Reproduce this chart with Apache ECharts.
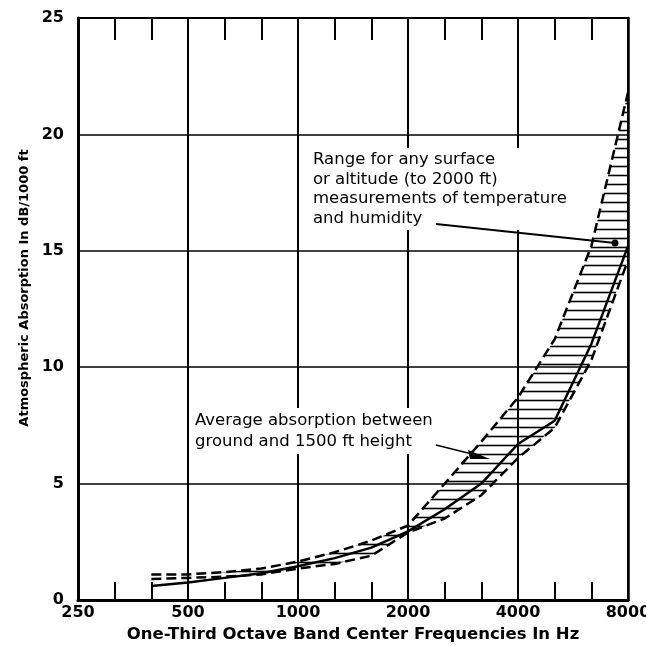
<!DOCTYPE html>
<html>
<head>
<meta charset="utf-8">
<script src="https://cdn.jsdelivr.net/npm/echarts@6/dist/echarts.min.js"></script>
<style>
  html, body { margin: 0; padding: 0; background: #fff; }
  #chart { width: 646px; height: 646px; }
</style>
</head>
<body>
<div id="chart"></div>
<script>
// one-third octave band centre frequencies (Hz)
const bands = ['250', '315', '400', '500', '630', '800', '1000', '1250', '1600', '2000', '2500', '3150', '4000', '5000', '6300', '8000']
// absorption in dB/1000 ft (no curve below 400 Hz)
const average = [null, null, 0.6, 0.75, 0.95, 1.15, 1.45, 1.8, 2.25, 2.95, 3.9, 5.0, 6.7, 7.7, 11.0, 15.2]
const upperBound = [null, null, 1.1, 1.1, 1.2, 1.35, 1.65, 2.05, 2.55, 3.2, 5.0, 6.8, 8.7, 11.2, 15.2, 21.8]
const lowerBound = [null, null, 0.9, 0.95, 1.0, 1.1, 1.35, 1.55, 1.9, 2.9, 3.5, 4.5, 6.1, 7.4, 10.3, 14.6]

const font = 'DejaVu Sans'
const ink = '#000'

function hatchPattern() {
  const c = document.createElement('canvas')
  c.width = 8
  c.height = 9
  const ctx = c.getContext('2d')
  ctx.strokeStyle = ink
  ctx.lineWidth = 1.6
  ctx.beginPath()
  ctx.moveTo(0, 4.5)
  ctx.lineTo(8, 4.5)
  ctx.stroke()
  return c
}

const bandWidth = upperBound.map((v, i) => (v == null ? null : +(v - lowerBound[i]).toFixed(2)))
const isOctave = (i) => i % 3 === 0

function curve(name, data, dashed) {
  return {
    name,
    type: 'line',
    data,
    symbol: 'none',
    silent: true,
    lineStyle: { color: ink, width: 2.5, type: dashed ? [10, 5] : 'solid' },
    z: 4
  }
}

const chart = echarts.init(document.getElementById('chart'))
chart.setOption({
  animation: false,
  backgroundColor: '#fff',
  textStyle: { fontFamily: font },
  grid: { left: 78, right: 18, top: 18, bottom: 46, outerBoundsMode: 'none', containLabel: false },
  xAxis: [
    {
      type: 'category',
      data: bands,
      boundaryGap: false,
      name: 'One-Third Octave Band Center Frequencies In Hz',
      nameLocation: 'middle',
      nameGap: 25,
      nameTextStyle: { color: ink, fontSize: 16.5, fontWeight: 'bold', fontFamily: font },
      axisLine: { onZero: false, lineStyle: { color: ink, width: 3 } },
      axisTick: { inside: true, length: 18, interval: 0, lineStyle: { color: ink, width: 2 } },
      axisLabel: { interval: isOctave, color: ink, fontSize: 16, fontWeight: 'bold', margin: 5, fontFamily: font },
      splitLine: { show: true, interval: (i) => isOctave(i) && i > 0, lineStyle: { color: ink, width: 2 } }
    },
    {
      type: 'category',
      data: bands,
      boundaryGap: false,
      position: 'top',
      axisLine: { onZero: false, lineStyle: { color: ink, width: 2 } },
      axisTick: { inside: true, length: 22, interval: 0, lineStyle: { color: ink, width: 2 } },
      axisLabel: { show: false },
      splitLine: { show: false }
    }
  ],
  yAxis: [
    {
      type: 'value',
      min: 0,
      max: 25,
      interval: 5,
      name: 'Atmospheric Absorption In dB/1000 ft',
      nameLocation: 'middle',
      nameGap: 32,
      nameTextStyle: { color: ink, fontSize: 13, fontWeight: 'bold', fontFamily: font, padding: [0, 0, 0, 42] },
      axisLine: { show: true, lineStyle: { color: ink, width: 3 } },
      axisTick: { show: false },
      axisLabel: { color: ink, fontSize: 16, fontWeight: 'bold', margin: 14, fontFamily: font },
      splitLine: { lineStyle: { color: ink, width: 1.5 } }
    },
    {
      type: 'value',
      position: 'right',
      min: 0,
      max: 25,
      interval: 5,
      axisLine: { show: true, lineStyle: { color: ink, width: 2.5 } },
      axisTick: { show: false },
      axisLabel: { show: false },
      splitLine: { show: false }
    }
  ],
  series: [
    {
      name: 'range base',
      type: 'line',
      stack: 'range',
      data: lowerBound,
      symbol: 'none',
      silent: true,
      lineStyle: { opacity: 0 }
    },
    {
      name: 'range',
      type: 'line',
      stack: 'range',
      data: bandWidth,
      symbol: 'none',
      silent: true,
      lineStyle: { opacity: 0 },
      areaStyle: { color: { image: hatchPattern(), repeat: 'repeat' }, opacity: 1 }
    },
    curve('upper', upperBound, true),
    curve('lower', lowerBound, true),
    curve('average', average, false)
  ],
  graphic: [
    {
      type: 'text',
      left: 310,
      top: 148,
      z: 10,
      style: {
        text: 'Range for any surface\nor altitude (to 2000 ft)\nmeasurements of temperature\nand humidity',
        font: '16.5px "DejaVu Sans"',
        lineHeight: 19.5,
        fill: ink,
        backgroundColor: '#fff',
        padding: [2, 3]
      }
    },
    {
      type: 'line',
      z: 10,
      shape: { x1: 436, y1: 224, x2: 615, y2: 243 },
      style: { stroke: ink, lineWidth: 1.8 }
    },
    {
      type: 'circle',
      z: 10,
      shape: { cx: 615, cy: 243, r: 3.5 },
      style: { fill: ink }
    },
    {
      type: 'text',
      left: 192,
      top: 408,
      z: 10,
      style: {
        text: 'Average absorption between\nground and 1500 ft height',
        font: '16.5px "DejaVu Sans"',
        lineHeight: 21,
        fill: ink,
        backgroundColor: '#fff',
        padding: [2, 3]
      }
    },
    {
      type: 'line',
      z: 10,
      shape: { x1: 436, y1: 445, x2: 480, y2: 456 },
      style: { stroke: ink, lineWidth: 1.8 }
    },
    {
      type: 'polygon',
      z: 10,
      shape: { points: [[468, 450], [490, 459], [470, 459]] },
      style: { fill: ink }
    }
  ]
})
</script>
</body>
</html>
